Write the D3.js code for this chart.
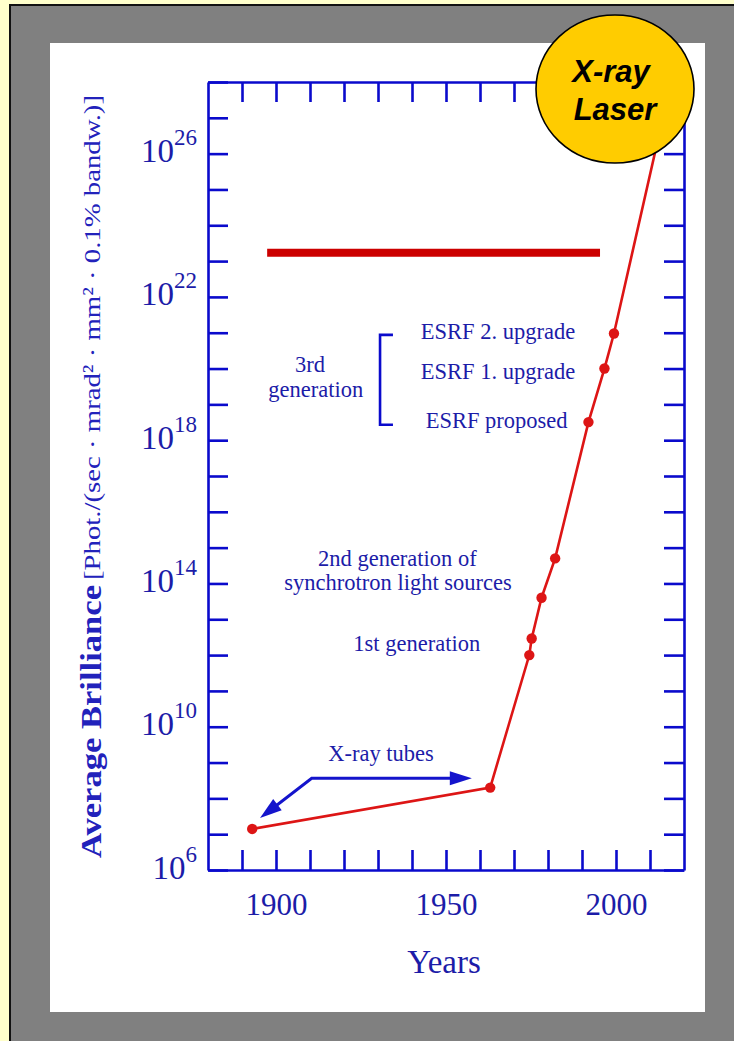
<!DOCTYPE html>
<html>
<head>
<meta charset="utf-8">
<script src="https://cdn.jsdelivr.net/npm/d3@7"></script>
<style>
  html, body { margin: 0; padding: 0; background: #ffffcc; }
  svg { display: block; }
</style>
</head>
<body>
<svg id="chart" width="734" height="1041"></svg>
<script>
// ---------- data ----------
const years      = [1893, 1963, 1974.5, 1975.2, 1978.1, 1982.1, 1991.9, 1996.6, 1999.4];
const brilliance = [1.4e7, 2.0e8, 1.0e12, 2.9e12, 4.0e13, 5.0e14, 3.2e18, 1.0e20, 9.5e20];
const laserYear = 2015, laserBrilliance = 3.2e27;           // line continues, hidden by the badge
const barStartYear = 1897.4, barEndYear = 1995.3, barBrilliance = 1.7e23;

const xTicks = [1890, 1900, 1910, 1920, 1930, 1940, 1950, 1960, 1970, 1980, 1990, 2000, 2010];
const xLabels = [1900, 1950, 2000];
const yExponents = d3.range(6, 29);                 // every decade 10^6 .. 10^28
const yLabelExponents = [6, 10, 14, 18, 22, 26];

const annotations = [
  { text: "ESRF 2. upgrade", year: 1965.3, value: 10 ** 20.83 },
  { text: "ESRF 1. upgrade", year: 1965.3, value: 10 ** 19.71 },
  { text: "ESRF proposed", year: 1964.9, value: 10 ** 18.34 },
  { text: "3rd", year: 1910.0, value: 10 ** 19.90 },
  { text: "generation", year: 1911.7, value: 10 ** 19.20 },
  { text: "2nd generation of", year: 1935.7, value: 10 ** 14.48 },
  { text: "synchrotron light sources", year: 1935.9, value: 10 ** 13.83 },
  { text: "1st generation", year: 1941.4, value: 10 ** 12.11 },
  { text: "X-ray tubes", year: 1930.9, value: 10 ** 9.03 }
];
const bracket = { year: 1930.6, armYear: 1934.4, top: 10 ** 20.94, bottom: 10 ** 18.43 };
const tubeArrow = { cornerYear: 1910.5, cornerValue: 10 ** 8.56, rightYear: 1957.6,
                    leftYear: 1895.3, leftValue: 10 ** 7.45 };

// ---------- layout ----------
const svg = d3.select("#chart");
const W = 734, H = 1041;
const X0 = 208, X1 = 684, Y0 = 82, Y1 = 870;
const axisColor = "#0a0acc", textColor = "#1c1ca8", red = "#dd1515";

// background frames
svg.append("rect").attr("x", 0).attr("y", 0).attr("width", W).attr("height", H).attr("fill", "#ffffcc");
svg.append("rect").attr("x", 9).attr("y", 4).attr("width", W - 9).attr("height", H - 4).attr("fill", "#111");
svg.append("rect").attr("x", 11).attr("y", 6).attr("width", W - 11).attr("height", H - 6).attr("fill", "#808080");
svg.append("rect").attr("x", 50).attr("y", 43).attr("width", 655).attr("height", 969).attr("fill", "#ffffff");

const x = d3.scaleLinear().domain([1880, 2020]).range([X0, X1]);
const y = d3.scaleLog().domain([1e6, 1e28]).range([Y1, Y0]);

const serif = "'Liberation Serif', 'DejaVu Serif', serif";

function styleAxis(g) {
  g.selectAll("path.domain").attr("stroke", axisColor).attr("stroke-width", 2.6);
  g.selectAll(".tick line").attr("stroke", axisColor).attr("stroke-width", 2.6);
  g.selectAll(".tick text").attr("fill", textColor).attr("font-family", serif);
}

// bottom axis
const gBottom = svg.append("g").attr("transform", `translate(0,${Y1})`)
  .call(d3.axisBottom(x).tickValues(xTicks).tickSize(-20).tickSizeOuter(0).tickPadding(23)
        .tickFormat(d => xLabels.includes(d) ? String(d) : ""));
styleAxis(gBottom);
gBottom.selectAll(".tick text").attr("font-size", 31);

// top axis
const gTop = svg.append("g").attr("transform", `translate(0,${Y0})`)
  .call(d3.axisTop(x).tickValues(xTicks).tickSize(-20).tickSizeOuter(0).tickFormat(""));
styleAxis(gTop);

// left axis
const gLeft = svg.append("g").attr("transform", `translate(${X0},0)`)
  .call(d3.axisLeft(y).tickValues(yExponents.map(e => 10 ** e)).tickSize(-20).tickSizeOuter(0)
        .tickPadding(11).tickFormat(""));
styleAxis(gLeft);
gLeft.selectAll(".tick text").each(function(d) {
  const e = Math.round(Math.log10(d));
  const t = d3.select(this);
  if (yLabelExponents.includes(e)) {
    t.attr("font-size", 33).attr("dy", "8px").text("10");
    t.append("tspan").attr("font-size", 23).attr("dy", "-17px").text(e);
  }
});

// right axis
const gRight = svg.append("g").attr("transform", `translate(${X1},0)`)
  .call(d3.axisRight(y).tickValues(yExponents.map(e => 10 ** e)).tickSize(-20).tickSizeOuter(0).tickFormat(""));
styleAxis(gRight);

// axis titles
svg.append("text").attr("x", x(1950) - 2).attr("y", 973)
  .attr("text-anchor", "middle").attr("font-family", serif).attr("font-size", 33)
  .attr("fill", textColor).text("Years");

svg.append("text").attr("transform", "translate(101,858) rotate(-90)")
  .attr("font-family", serif).attr("font-weight", "bold").attr("font-size", 30)
  .attr("fill", "#2222bb").attr("textLength", 273).attr("lengthAdjust", "spacingAndGlyphs")
  .text("Average Brilliance");
svg.append("text").attr("transform", "translate(100,580) rotate(-90)")
  .attr("font-family", serif).attr("font-size", 24)
  .attr("fill", "#2222bb").attr("textLength", 485).attr("lengthAdjust", "spacingAndGlyphs")
  .text("[Phot./(sec · mrad² · mm² · 0.1% bandw.)]");

// red horizontal bar
svg.append("line")
  .attr("x1", x(barStartYear)).attr("x2", x(barEndYear))
  .attr("y1", y(barBrilliance)).attr("y2", y(barBrilliance))
  .attr("stroke", "#cc0000").attr("stroke-width", 8);

// annotations
svg.append("g").selectAll("text").data(annotations).join("text")
  .attr("x", d => x(d.year)).attr("y", d => y(d.value))
  .attr("text-anchor", "middle").attr("font-family", serif).attr("font-size", 22.5)
  .attr("fill", textColor).text(d => d.text);

svg.append("path")
  .attr("d", `M${x(bracket.armYear)},${y(bracket.top)} H${x(bracket.year)} V${y(bracket.bottom)} H${x(bracket.armYear)}`)
  .attr("fill", "none").attr("stroke", axisColor).attr("stroke-width", 2.6);

// X-ray tubes arrows
const cx = x(tubeArrow.cornerYear), cy = y(tubeArrow.cornerValue);
const rx = x(tubeArrow.rightYear);
const lx = x(tubeArrow.leftYear), ly = y(tubeArrow.leftValue);
function arrowHead(tipX, tipY, fromX, fromY, len, half) {
  const dx = tipX - fromX, dy = tipY - fromY, L = Math.hypot(dx, dy);
  const ux = dx / L, uy = dy / L;
  const bx = tipX - ux * len, by = tipY - uy * len;
  return `M${tipX},${tipY} L${bx - uy * half},${by + ux * half} L${bx + uy * half},${by - ux * half} Z`;
}
svg.append("path").attr("d", `M${rx - 15},${cy} H${cx} L${lx + 10 * (cx - lx) / Math.hypot(cx - lx, cy - ly)},${ly - 10 * (ly - cy) / Math.hypot(cx - lx, cy - ly)}`)
  .attr("fill", "none").attr("stroke", "#1414cc").attr("stroke-width", 3);
svg.append("path").attr("d", arrowHead(rx, cy, cx, cy, 22, 7)).attr("fill", "#1414cc");
svg.append("path").attr("d", arrowHead(lx, ly, cx, cy, 22, 7)).attr("fill", "#1414cc");

// red brilliance line
const pts = years.map((yr, i) => [yr, brilliance[i]]);
const linePts = pts.concat([[laserYear, laserBrilliance]]);
svg.append("path").datum(linePts)
  .attr("d", d3.line().x(d => x(d[0])).y(d => y(d[1])))
  .attr("fill", "none").attr("stroke", red).attr("stroke-width", 2.6);
svg.append("g").selectAll("circle").data(pts).join("circle")
  .attr("cx", d => x(d[0])).attr("cy", d => y(d[1])).attr("r", 5.2).attr("fill", red);

// X-ray laser badge
svg.append("ellipse").attr("cx", 615).attr("cy", 89).attr("rx", 79).attr("ry", 74)
  .attr("fill", "#ffcc00").attr("stroke", "#000").attr("stroke-width", 1.6);
const sans = "'Liberation Sans', Arial, sans-serif";
svg.append("text").attr("x", 611).attr("y", 82).attr("text-anchor", "middle")
  .attr("font-family", sans).attr("font-weight", "bold").attr("font-style", "italic")
  .attr("font-size", 31).attr("fill", "#000").text("X-ray");
svg.append("text").attr("x", 615).attr("y", 120).attr("text-anchor", "middle")
  .attr("font-family", sans).attr("font-weight", "bold").attr("font-style", "italic")
  .attr("font-size", 31).attr("fill", "#000").text("Laser");
</script>
</body>
</html>
